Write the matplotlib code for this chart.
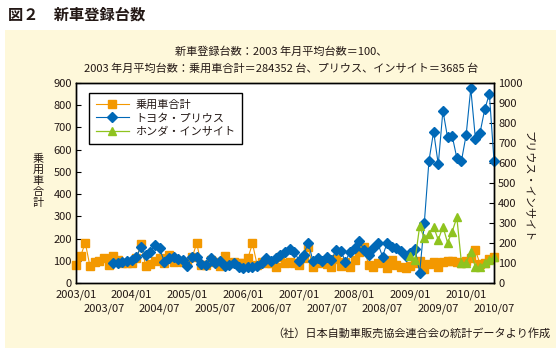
import numpy as np
import matplotlib
matplotlib.use("Agg")
import matplotlib.pyplot as plt
from matplotlib.patches import Rectangle

plt.rcParams['font.family'] = ['Noto Sans CJK JP', 'DejaVu Sans']

# 月次インデックス (2003/01 = 0 ... 2010/07 = 90)
car_total = [81, 122, 181, 76, 96, 100, 114, 81, 122, 103, 91, 91,
             91, 114, 174, 76, 84, 99, 114, 91, 126, 96, 99, 96,
             96, 116, 178, 81, 81, 103, 96, 76, 122, 88, 96, 88,
             88, 111, 178, 81, 96, 88, 91, 71, 115, 88, 96, 88,
             80, 111, 160, 71, 88, 99, 86, 71, 106, 76, 96, 71,
             103, 141, 160, 81, 71, 88, 100, 66, 103, 81, 71, 66,
             76, 88, 98, 62, 85, 96, 70, 95, 100, 97, 95, 90,
             100, 112, 148, 85, 92, 110, 115]

prius_start = 8
prius = [98, 98, 103, 112,
         115, 128, 182, 140, 157, 190, 173, 107, 123, 128, 120, 115,
         85, 128, 132, 95, 90, 123, 102, 110, 85, 90, 98, 78,
         77, 78, 82, 85, 100, 123, 112, 123, 140, 157, 170, 157,
         112, 140, 202, 112, 123, 112, 132, 115, 165, 162, 107, 157,
         173, 212, 165, 140, 173, 198, 132, 202, 178, 173, 162, 135,
         150, 170, 52, 302, 612, 757, 593, 862, 728, 735, 625, 612,
         740, 973, 720, 752, 868, 945, 612]

insight_start = 72
insight = [135, 115, 285, 223, 245, 282, 215, 282, 202, 257, 328, 98,
           102, 157, 78, 78, 98, 115, 128]

jan_labels = ['2003/01', '2004/01', '2005/01', '2006/01', '2007/01',
              '2008/01', '2009/01', '2010/01']
jul_labels = ['2003/07', '2004/07', '2005/07', '2006/07', '2007/07',
              '2008/07', '2009/07', '2010/07']

c_orange = '#F39800'
c_blue = '#0068B7'
c_green = '#8FC31F'
c_text = '#231815'

fig = plt.figure(figsize=(5.6, 3.5), dpi=100)
fig.patch.set_facecolor('white')
fig.patches.append(Rectangle((5 / 560, 0.005), 551 / 560, 1 - 30 / 350 - 0.005,
                             transform=fig.transFigure, facecolor='#FEF8DA',
                             edgecolor='none', zorder=-10))

fig.text(8 / 560, 1 - 15 / 350, '図２　新車登録台数', fontsize=11, fontweight='bold',
         color=c_text, va='center', ha='left')
fig.text(281 / 560, 1 - 52 / 350, '新車登録台数：2003 年月平均台数＝100、',
         fontsize=8, color=c_text, ha='center', va='center')
fig.text(281 / 560, 1 - 69 / 350,
         '2003 年月平均台数：乗用車合計＝284352 台、プリウス、インサイト＝3685 台',
         fontsize=8, color=c_text, ha='center', va='center')
fig.text(550 / 560, 1 - 333 / 350, '（社）日本自動車販売協会連合会の統計データより作成',
         fontsize=8, color=c_text, ha='right', va='center')

ax = fig.add_axes([76 / 560, 1 - 283 / 350, 418 / 560, 200 / 350])
ax.set_facecolor('white')
ax2 = ax.twinx()

x_total = np.arange(len(car_total))
x_prius = np.arange(prius_start, prius_start + len(prius))
x_insight = np.arange(insight_start, insight_start + len(insight))

l1, = ax.plot(x_total, car_total, color=c_orange, lw=0.8, marker='s', ms=6,
              mec=c_orange, mfc=c_orange, clip_on=False, label='乗用車合計')
l2, = ax2.plot(x_prius, prius, color=c_blue, lw=0.8, marker='D', ms=5,
               mec=c_blue, mfc=c_blue, clip_on=False, label='トヨタ・プリウス')
l3, = ax2.plot(x_insight, insight, color=c_green, lw=0.9, marker='^', ms=6,
               mec=c_green, mfc=c_green, clip_on=False, label='ホンダ・インサイト')

ax.set_xlim(0, 90)
ax.set_ylim(0, 900)
ax2.set_ylim(0, 1000)
ax.set_yticks(range(0, 901, 100))
ax2.set_yticks(range(0, 1001, 100))
ax.set_xticks(range(0, 91, 12))
ax.set_xticklabels(jan_labels)
ax.set_xticks(range(6, 91, 12), minor=True)
ax.set_xticklabels(jul_labels, minor=True)

for a in (ax, ax2):
    for s in a.spines.values():
        s.set_linewidth(1.0)
        s.set_color('black')
    a.tick_params(axis='y', direction='in', length=3.5, width=0.8, labelsize=8,
                  labelcolor=c_text, pad=3)
ax.tick_params(axis='x', which='major', length=0, labelsize=8, labelcolor=c_text, pad=4.5)
ax.tick_params(axis='x', which='minor', length=0, labelsize=8, labelcolor=c_text, pad=14.5)

fig.text(38 / 560, 1 - 181 / 350, '\n'.join('乗用車合計'), fontsize=8, color=c_text,
         ha='center', va='center', linespacing=1.15)
fig.text(528 / 560, 1 - 187 / 350, 'プリウス・インサイト', fontsize=8, color=c_text,
         ha='center', va='center', rotation=-90)

leg = ax2.legend(handles=[l1, l2, l3], loc='upper left', bbox_to_anchor=(0.031, 0.95),
                 borderaxespad=0, fontsize=8, fancybox=False, framealpha=1,
                 edgecolor='black', handlelength=3.0, labelspacing=0.3,
                 borderpad=0.6, handletextpad=0.6)
leg.get_frame().set_linewidth(1.0)
for t in leg.get_texts():
    t.set_color(c_text)

fig.savefig('out.png', dpi=100)
